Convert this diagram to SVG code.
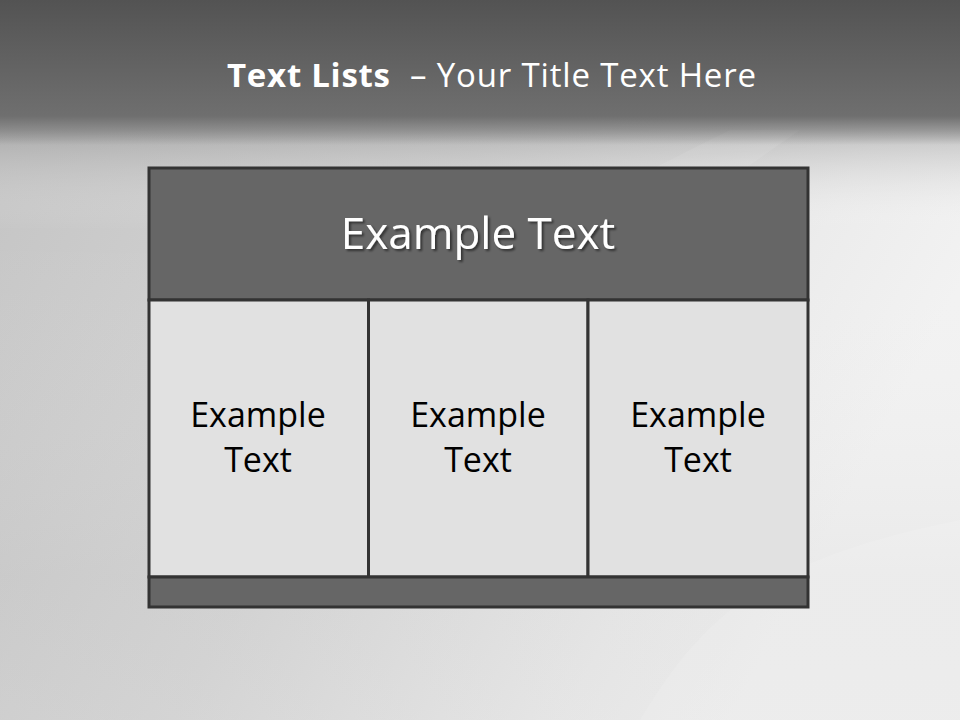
<svg xmlns="http://www.w3.org/2000/svg" width="960" height="720" viewBox="0 0 960 720">
<defs>
<linearGradient id="bg" x1="0" y1="0" x2="1" y2="0.4">
<stop offset="0" stop-color="#c2c2c2"/>
<stop offset="0.5" stop-color="#d6d6d6"/>
<stop offset="0.85" stop-color="#ececec"/>
<stop offset="1" stop-color="#f2f2f2"/>
</linearGradient>
<linearGradient id="bgv" x1="0" y1="0" x2="0" y2="1">
<stop offset="0" stop-color="#777" stop-opacity="0.6"/>
<stop offset="0.18" stop-color="#888" stop-opacity="0.45"/>
<stop offset="0.32" stop-color="#fff" stop-opacity="0"/>
<stop offset="0.8" stop-color="#bbb" stop-opacity="0.15"/>
<stop offset="1" stop-color="#ccc" stop-opacity="0.2"/>
</linearGradient>
<linearGradient id="hdr" x1="0" y1="0" x2="0" y2="1">
<stop offset="0" stop-color="#535353"/>
<stop offset="0.8" stop-color="#6f6f6f"/>
<stop offset="1" stop-color="#6f6f6f" stop-opacity="0"/>
</linearGradient>
<filter id="sh" x="-10%" y="-20%" width="120%" height="140%">
<feDropShadow dx="2" dy="2" stdDeviation="1" flood-color="#000" flood-opacity="0.5"/>
</filter>
<style>
.frame{stroke:#333;stroke-width:3}
.dark{fill:#666}
.cell{fill:#e1e1e1}
.ct{font-family:"Open Sans","Noto Sans",sans-serif;font-size:34px;fill:#000;text-anchor:middle}
.tt{font-family:"Open Sans","Noto Sans",sans-serif;font-size:33px;fill:#fff}
</style>
</defs>
<rect width="960" height="720" fill="url(#bg)"/>
<rect width="960" height="720" fill="url(#bgv)"/>
<path d="M640 720 C700 620 760 560 960 520 L960 720 Z" fill="#fff" opacity="0.12"/>
<path d="M650 170 L730 130 L800 130 L700 200 Z" fill="#fff" opacity="0.08"/>
<rect width="960" height="145" fill="url(#hdr)"/>
<g id="title">
<text class="tt" x="227" y="87" font-weight="bold" textLength="163">Text Lists</text>
<text class="tt" x="410" y="87" textLength="346">– Your Title Text Here</text>
</g>
<g id="header">
<rect class="frame dark" x="149" y="168" width="659" height="132"/>
<text x="478" y="249" text-anchor="middle" font-family="'Open Sans','Noto Sans',sans-serif" font-size="44" fill="#fff" filter="url(#sh)">Example Text</text>
</g>
<g id="cell1">
<rect class="frame cell" x="149" y="300" width="219.5" height="277"/>
<text class="ct" x="258" y="427">Example</text>
<text class="ct" x="258" y="472">Text</text>
</g>
<g id="cell2">
<rect class="frame cell" x="368.5" y="300" width="219.5" height="277"/>
<text class="ct" x="478" y="427">Example</text>
<text class="ct" x="478" y="472">Text</text>
</g>
<g id="cell3">
<rect class="frame cell" x="588" y="300" width="220" height="277"/>
<text class="ct" x="698" y="427">Example</text>
<text class="ct" x="698" y="472">Text</text>
</g>
<g id="footer">
<rect class="frame dark" x="149" y="577" width="659" height="30"/>
</g>
<g id="connectors"/>
</svg>
